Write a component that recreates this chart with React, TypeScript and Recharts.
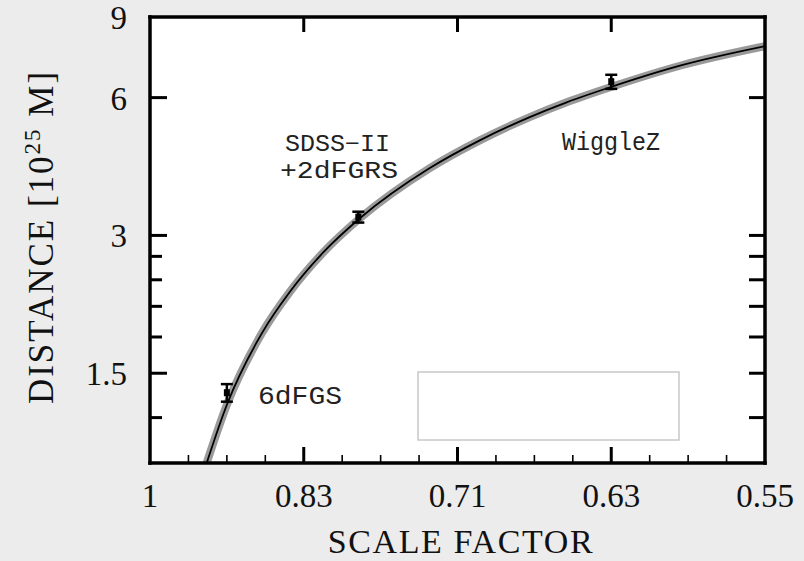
import React from "react";
import {
  ComposedChart,
  Line,
  Scatter,
  ErrorBar,
  XAxis,
  YAxis,
  CartesianGrid,
  Customized,
} from "recharts";

// x axis runs linearly in redshift, labelled with the scale factor 1/(1+z)
const xMajor = [0, 0.2, 0.4, 0.6, 0.8];
const xLabels = ["1", "0.83", "0.71", "0.63", "0.55"];
const xMinor = [0.05, 0.1, 0.15, 0.25, 0.3, 0.35, 0.45, 0.5, 0.55, 0.65, 0.7, 0.75];

// log distance axis, 10^25 m
const yMajor = [1.5, 3, 6, 9];
const yMinor = [1.2, 1.8, 2.1, 2.4, 2.7];

// best-fit curve
const curveZ = [0.0715, 0.1, 0.146, 0.182, 0.225, 0.273, 0.364, 0.429, 0.494, 0.542, 0.601, 0.693, 0.8];
const curveD = [0.93, 1.28, 1.84, 2.26, 2.75, 3.27, 4.21, 4.84, 5.44, 5.86, 6.34, 7.07, 7.77];

// survey measurements
const surveyNames = ["6dFGS", "SDSS-II+2dFGRS", "WiggleZ"];
const surveyZ = [0.1, 0.271, 0.6];
const surveyD = [1.36, 3.29, 6.5];
const surveyErr = [0.06, 0.09, 0.23];

const curveData = curveZ.map((z, i) => ({ z, d: curveD[i] }));
const surveyData = surveyNames.map((name, i) => ({
  name,
  z: surveyZ[i],
  d: surveyD[i],
  err: surveyErr[i],
}));

const SERIF = "'Liberation Serif', 'DejaVu Serif', serif";
const MONO = "'Liberation Mono', 'DejaVu Sans Mono', monospace";

// plot frame in page pixels
const W = 804;
const H = 561;
const PLOT = { left: 150, top: 17, right: 765, bottom: 463 };

const near = (a: number, b: number) => Math.abs(a - b) < 1e-6;

function BottomTick(props: any) {
  const { x, payload } = props;
  const y = PLOT.bottom;
  const v = payload.value;
  const i = xMajor.findIndex((m) => near(m, v));
  const major = i >= 0;
  const edge = near(v, 0) || near(v, 0.8);
  return (
    <g>
      {!edge && (
        <line x1={x} x2={x} y1={y} y2={y - (major ? 16 : 8)} stroke="#000" strokeWidth={major ? 3 : 1.6} />
      )}
      {major && (
        <text x={x} y={y + 44} textAnchor="middle" fontFamily={SERIF} fontSize={33} fill="#111">
          {xLabels[i]}
        </text>
      )}
    </g>
  );
}

function TopTick(props: any) {
  const { x } = props;
  return <line x1={x} x2={x} y1={PLOT.top} y2={PLOT.top + 15} stroke="#000" strokeWidth={3} />;
}

function LeftTick(props: any) {
  const { y, payload } = props;
  const x = PLOT.left;
  const v = payload.value;
  const major = yMajor.some((m) => near(m, v));
  return (
    <g>
      {!near(v, 9) && (
        <line x1={x} x2={x + (major ? 17 : 12)} y1={y} y2={y} stroke="#000" strokeWidth={3} />
      )}
      {major && (
        <text x={127} y={y + 12} textAnchor="end" fontFamily={SERIF} fontSize={33} fill="#111">
          {v}
        </text>
      )}
    </g>
  );
}

function RightTick(props: any) {
  const { y, payload } = props;
  const x = PLOT.right;
  if (near(payload.value, 9)) return <g />;
  return <line x1={x} x2={x - 16} y1={y} y2={y} stroke="#000" strokeWidth={3} />;
}

function Marker(props: any) {
  const { cx, cy } = props;
  return <rect x={cx - 3} y={cy - 3.5} width={6} height={7} fill="#000" />;
}

function Annotations() {
  return (
    <g fontFamily={MONO} fill="#222">
      <rect x={418} y={372} width={261} height={68} fill="#fff" stroke="#c8c8c8" strokeWidth={1.5} />
      <text x={285} y={151} fontSize={23} textLength={105} lengthAdjust="spacingAndGlyphs">SDSS−II</text>
      <text x={280} y={178} fontSize={23} textLength={118} lengthAdjust="spacingAndGlyphs">+2dFGRS</text>
      <text x={562} y={150} fontSize={25} textLength={98} lengthAdjust="spacingAndGlyphs">WiggleZ</text>
      <text x={258} y={404} fontSize={25} textLength={84} lengthAdjust="spacingAndGlyphs">6dFGS</text>
      <text
        x={461}
        y={553}
        textAnchor="middle"
        fontFamily={SERIF}
        fontSize={34}
        letterSpacing={1.6}
        fill="#111"
      >
        SCALE FACTOR
      </text>
      <text
        transform="translate(53,237) rotate(-90)"
        textAnchor="middle"
        fontFamily={SERIF}
        fontSize={35}
        letterSpacing={2}
        fill="#111"
      >
        DISTANCE [10<tspan fontSize={23} dy={-13}>25</tspan>
        <tspan dy={13}> M]</tspan>
      </text>
    </g>
  );
}

const frame = { stroke: "#000", strokeWidth: 3.5, strokeLinecap: "square" as const };
const xTicks = [...xMajor, ...xMinor].sort((a, b) => a - b);
const yTicks = [...yMinor, ...yMajor].sort((a, b) => a - b);

export default function App() {
  return (
    <div style={{ position: "absolute", left: 0, top: 0, width: W, height: H, background: "#ececec" }}>
      <ComposedChart
        width={W}
        height={H}
        data={curveData}
        margin={{ top: PLOT.top - 1, right: W - PLOT.right - 1, left: 0, bottom: 0 }}
      >
        <CartesianGrid horizontal={false} vertical={false} fill="#fff" xAxisId="b" yAxisId="l" />
        <XAxis
          xAxisId="b"
          dataKey="z"
          type="number"
          domain={[0, 0.8]}
          ticks={xTicks}
          interval={0}
          height={H - PLOT.bottom}
          tickLine={false}
          axisLine={frame}
          tick={(p: any) => <BottomTick {...p} />}
        />
        <XAxis
          xAxisId="t"
          dataKey="z"
          type="number"
          orientation="top"
          domain={[0, 0.8]}
          ticks={[0.2, 0.4, 0.6]}
          interval={0}
          height={1}
          tickLine={false}
          axisLine={frame}
          tick={(p: any) => <TopTick {...p} />}
        />
        <YAxis
          yAxisId="l"
          type="number"
          scale="log"
          domain={[0.955, 9]}
          allowDataOverflow
          ticks={yTicks}
          interval={0}
          width={PLOT.left}
          tickLine={false}
          axisLine={frame}
          tick={(p: any) => <LeftTick {...p} />}
        />
        <YAxis
          yAxisId="r"
          orientation="right"
          type="number"
          scale="log"
          domain={[0.955, 9]}
          allowDataOverflow
          ticks={yTicks}
          interval={0}
          width={1}
          tickLine={false}
          axisLine={frame}
          tick={(p: any) => <RightTick {...p} />}
        />
        <Line
          xAxisId="b"
          yAxisId="l"
          type="monotone"
          dataKey="d"
          stroke="#9a9a9a"
          strokeWidth={8}
          dot={false}
          isAnimationActive={false}
        />
        <Line
          xAxisId="b"
          yAxisId="l"
          type="monotone"
          dataKey="d"
          stroke="#000"
          strokeWidth={1.8}
          dot={false}
          isAnimationActive={false}
        />
        <Scatter
          xAxisId="b"
          yAxisId="l"
          data={surveyData}
          dataKey="d"
          shape={(p: any) => <Marker {...p} />}
          isAnimationActive={false}
        >
          <ErrorBar dataKey="err" direction="y" width={6} strokeWidth={2.5} stroke="#000" isAnimationActive={false} />
        </Scatter>
        <Customized component={Annotations} />
      </ComposedChart>
    </div>
  );
}
